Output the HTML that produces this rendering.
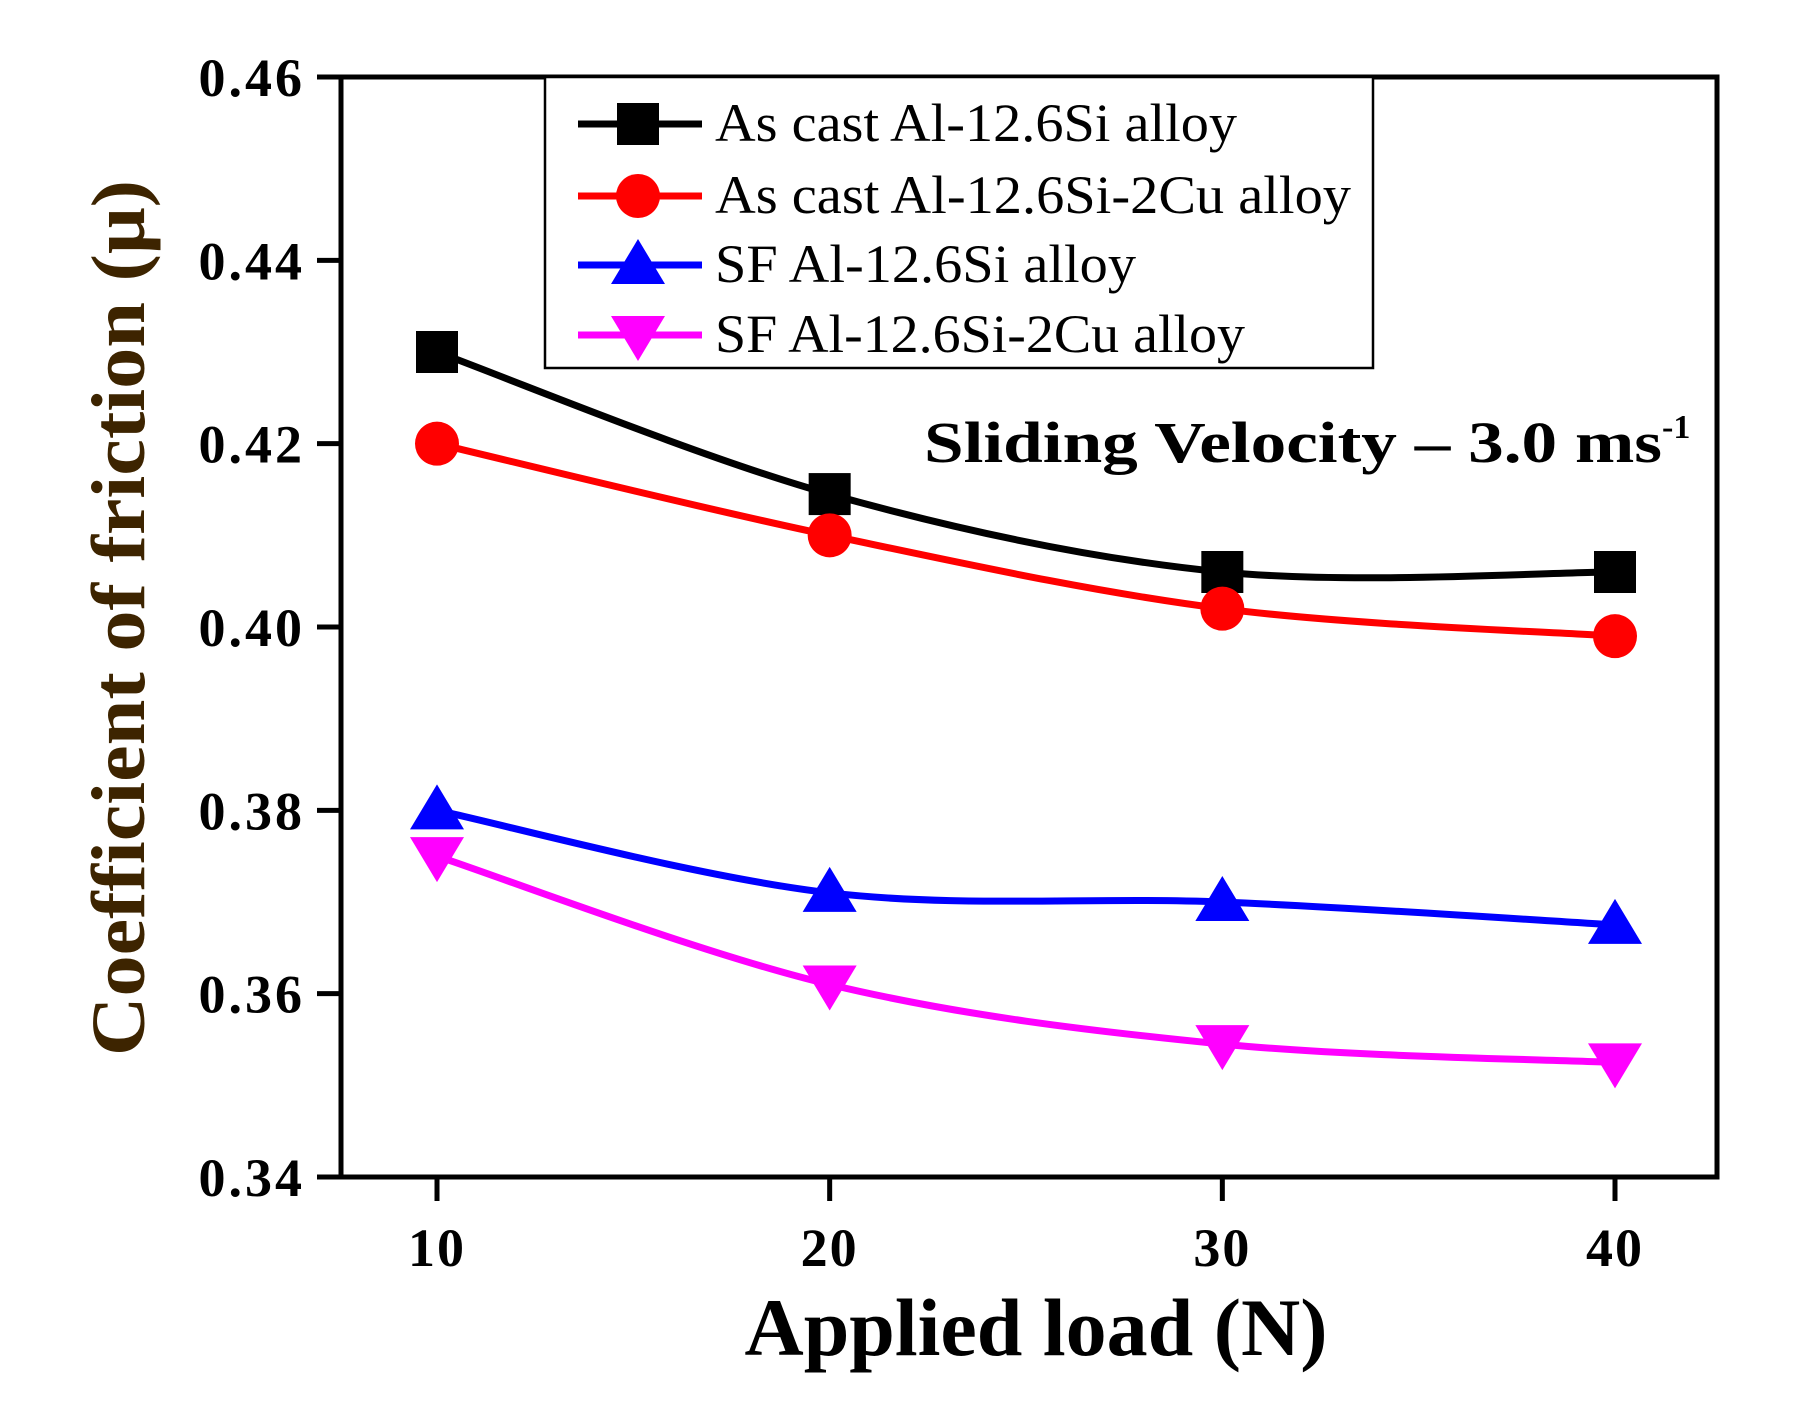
<!DOCTYPE html>
<html><head><meta charset="utf-8"><style>
html,body{margin:0;padding:0;background:#fff;}
svg{display:block;font-family:"Liberation Serif",serif;}
</style></head><body>
<svg id="chart" width="1794" height="1419" viewBox="0 0 1794 1419" xmlns="http://www.w3.org/2000/svg">
<rect width="1794" height="1419" fill="#fff"/>
<g id="plot"></g>
<text transform="translate(144,618) rotate(-90)" text-anchor="middle" font-weight="bold" font-size="76" fill="#3d2400" textLength="876" lengthAdjust="spacingAndGlyphs">Coefficient of friction (μ)</text>
<text x="1036" y="1355" text-anchor="middle" font-weight="bold" font-size="82" fill="#000" textLength="583" lengthAdjust="spacingAndGlyphs">Applied load (N)</text>
<text x="924" y="462" font-weight="bold" font-size="58" fill="#000"><tspan textLength="738" lengthAdjust="spacingAndGlyphs">Sliding Velocity – 3.0 ms</tspan><tspan font-size="34" dy="-24">-1</tspan></text>
<g id="legend">
<rect x="545" y="77" width="828" height="291" fill="#fff" stroke="#000" stroke-width="2.5"/>
</g>
</svg>
<script>
const categories=[10,20,30,40];
const asCastSi=[0.430,0.4145,0.406,0.406];
const asCastSiCu=[0.420,0.410,0.402,0.399];
const sfSi=[0.380,0.371,0.370,0.3675];
const sfSiCu=[0.375,0.361,0.3545,0.3525];
const yTicks=[0.34,0.36,0.38,0.40,0.42,0.44,0.46];
const yTickLabels=["0.34","0.36","0.38","0.40","0.42","0.44","0.46"];
const xTickLabels=["10","20","30","40"];
const seriesNames=["As cast Al-12.6Si alloy","As cast Al-12.6Si-2Cu alloy","SF Al-12.6Si alloy","SF Al-12.6Si-2Cu alloy"];

const NS="http://www.w3.org/2000/svg";
const L=341,R=1717,T=77,B=1177;
const xs=v=>437+(v-10)*(1615-437)/30;
const ys=v=>B-(v-0.34)*(B-T)/0.12;
const plot=document.getElementById('plot');
function mk(tag,attrs,parent){const e=document.createElementNS(NS,tag);for(const k in attrs)e.setAttribute(k,attrs[k]);(parent||plot).appendChild(e);return e;}

const series=[
 {vals:asCastSi,color:"#000",marker:"square",name:"series-as-cast-si"},
 {vals:asCastSiCu,color:"#ff0000",marker:"circle",name:"series-as-cast-si-cu"},
 {vals:sfSi,color:"#0000ff",marker:"up",name:"series-sf-si"},
 {vals:sfSiCu,color:"#ff00ff",marker:"down",name:"series-sf-si-cu"}];

function marker(type,x,y,color,parent){
 let e;
 if(type==="square")e=mk('rect',{x:x-21,y:y-21,width:42,height:42,fill:color},parent);
 else if(type==="circle")e=mk('circle',{cx:x,cy:y,r:22,fill:color},parent);
 else if(type==="up")e=mk('polygon',{points:`${x},${y-26} ${x+27},${y+19} ${x-27},${y+19}`,fill:color},parent);
 else e=mk('polygon',{points:`${x},${y+26} ${x+27},${y-19} ${x-27},${y-19}`,fill:color},parent);
 return e;
}
function smoothPath(pts){
 let d=`M${pts[0][0]},${pts[0][1]}`;
 for(let i=0;i<pts.length-1;i++){
  const p0=pts[i-1]||pts[i],p1=pts[i],p2=pts[i+1],p3=pts[i+2]||p2;
  const c1=[p1[0]+(p2[0]-p0[0])/6,p1[1]+(p2[1]-p0[1])/6];
  const c2=[p2[0]-(p3[0]-p1[0])/6,p2[1]-(p3[1]-p1[1])/6];
  d+=` C${c1[0]},${c1[1]} ${c2[0]},${c2[1]} ${p2[0]},${p2[1]}`;
 }
 return d;
}
const ax=mk('path',{d:`M${L},${T} V${B} H${R} V${T} Z`,fill:"none",stroke:"#000","stroke-width":5});


yTicks.forEach((v,i)=>{
 const t=mk('line',{x1:L-24,x2:L,y1:ys(v),y2:ys(v),stroke:"#000","stroke-width":5});
 
 
 const lb=mk('text',{x:305,y:ys(v)+19,"text-anchor":"end","font-weight":"bold","font-size":54,"letter-spacing":3});
 lb.textContent=yTickLabels[i];
 
 
});
categories.forEach((c,i)=>{
 const t=mk('line',{x1:xs(c),x2:xs(c),y1:B,y2:B+24,stroke:"#000","stroke-width":5});
 
 
 const lb=mk('text',{x:xs(c),y:1266,"text-anchor":"middle","font-weight":"bold","font-size":54,"letter-spacing":2});
 lb.textContent=xTickLabels[i];
 
 
});
series.forEach(s=>{
 const g=mk('g',{});
 
 
 const pts=categories.map((c,i)=>[xs(c),ys(s.vals[i])]);
 const p=mk('path',{d:smoothPath(pts),fill:"none",stroke:s.color,"stroke-width":7},g);
 
 
 pts.forEach(q=>{
  const m=marker(s.marker,q[0],q[1],s.color,g);
  
  
 });
});
const legend=document.getElementById('legend');
const rowY=[124,196,265,335];
const textLen=[522,636,421,530];
series.forEach((s,i)=>{
 const g=mk('g',{},legend);
 
 
 mk('line',{x1:578,x2:702,y1:rowY[i],y2:rowY[i],stroke:s.color,"stroke-width":7},g);
 marker(s.marker,638,rowY[i],s.color,g);
 const t=mk('text',{x:715,y:rowY[i]+17,"font-size":54,textLength:textLen[i],lengthAdjust:"spacingAndGlyphs"},g);
 t.textContent=seriesNames[i];
});
</script>
</body></html>
